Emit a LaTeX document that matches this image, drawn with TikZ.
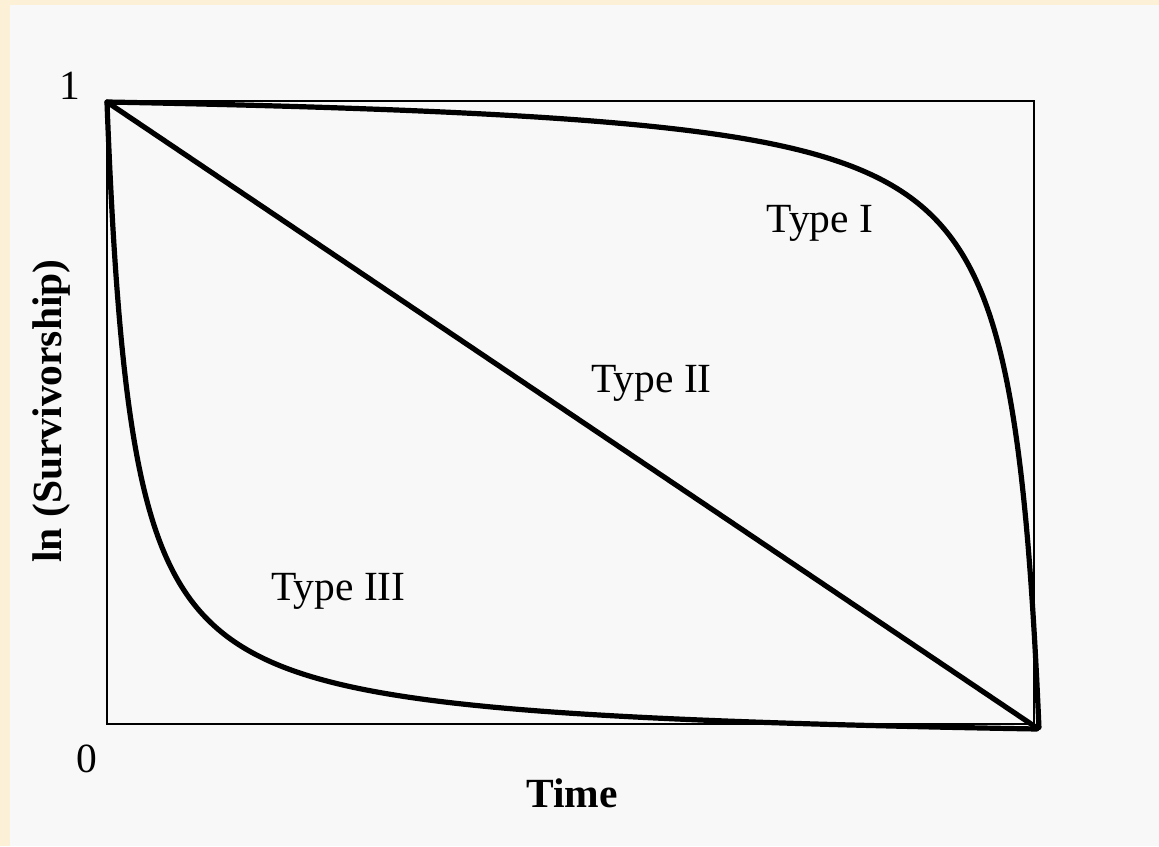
\documentclass[tikz,border=0pt]{standalone}
\usepackage{fontspec}
\setmainfont{Liberation Serif}
\definecolor{cream}{RGB}{252,240,214}
\definecolor{panel}{RGB}{248,248,248}
\begin{document}
\begin{tikzpicture}[x=1pt,y=-1pt,
  lbl/.style={font=\fontsize{41.5}{48}\selectfont, inner sep=0pt, anchor=base},
  boldlbl/.style={lbl, font=\fontsize{41.5}{48}\selectfont\bfseries},
  curve/.style={line width=5.2pt, line join=round, line cap=round},
  frame/.style={line width=2.3pt}]
\useasboundingbox (0,0) rectangle (1159,846);
\fill[cream] (0,0) rectangle (1159,846);
\fill[panel] (10,5) rectangle (1159,846);
% plot box
\coordinate (tl) at (107,101);
\coordinate (br) at (1034,724);
\draw[frame] (tl) rectangle (br);
% curves
\coordinate (start) at (107,102);
\coordinate (endII) at (1037,728);
\draw[curve] (start) -- (endII);
% Type I (hyperbola)
\draw[curve] plot[domain=-1.774:1.774, samples=140, smooth]
  ({107+932*(1.0296-0.17457*exp(-(\x)))}, {102+627*(0.17457*exp(\x)-0.0296)});
% Type III (hyperbola)
\draw[curve] plot[domain=-1.832:1.832, samples=140, smooth]
  ({107+931*(0.16429*exp(\x)-0.0263)}, {729-627*(0.16429*exp(-(\x))-0.0263)});
% labels
\node[lbl] (one) at (70,99) {1};
\node[lbl] (zero) at (86.5,772) {0};
\node[boldlbl] (time) at (572,807) {Time};
\node[font=\fontsize{41.5}{48}\selectfont\bfseries, inner sep=0pt, rotate=90] (ylab) at (52,411) {ln (Survivorship)};
\node[lbl] (t1) at (820,232) {Type I};
\node[lbl] (t2) at (651.5,392) {Type II};
\node[lbl] (t3) at (338.5,600) {Type III};
\end{tikzpicture}
\end{document}
